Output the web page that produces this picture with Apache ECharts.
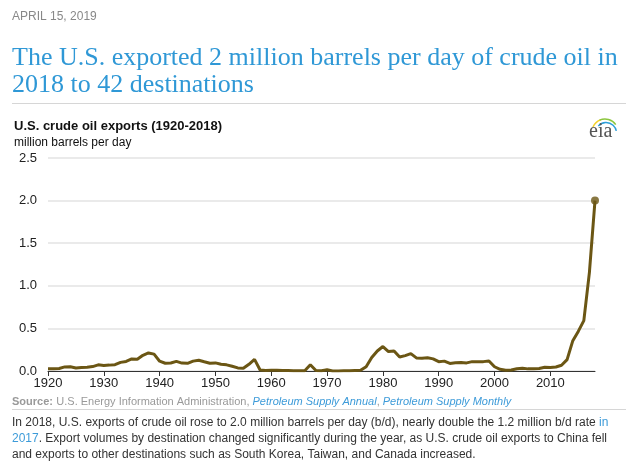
<!DOCTYPE html>
<html>
<head>
<meta charset="utf-8">
<script src="https://cdn.jsdelivr.net/npm/echarts@6/dist/echarts.min.js"></script>
<style>
html,body{margin:0;padding:0;background:#fff;}
#main{width:638px;height:470px;}
</style>
</head>
<body>
<div id="main"></div>
<script>
var years = [];
for (var y = 1920; y <= 2018; y++) years.push(y);
// U.S. crude oil exports, thousand barrels per day, 1920-2018
var exportsKbd = [
  25, 26, 30, 48, 49, 36, 42, 43, 52, 72,
  65, 69, 74, 101, 112, 141, 137, 184, 212, 198,
  115, 91, 94, 113, 93, 90, 116, 126, 108, 91,
  95, 79, 72, 55, 36, 32, 79, 137, 11, 7,
  8, 9, 5, 5, 4, 3, 4, 73, 5, 4,
  14, 1, 1, 2, 3, 6, 8, 50, 158, 235,
  287, 228, 236, 164, 181, 204, 154, 151, 155, 142,
  109, 116, 89, 98, 99, 95, 110, 108, 110, 118,
  50, 20, 9, 12, 27, 32, 25, 27, 29, 44,
  42, 47, 67, 134, 351, 465, 591, 1158, 2000
];
var yTicks = [0, 0.5, 1.0, 1.5, 2.0, 2.5];
var xTickYears = [1920, 1930, 1940, 1950, 1960, 1970, 1980, 1990, 2000, 2010];

var lineData = years.map(function (yr, i) { return [yr, exportsKbd[i] / 1000]; });
var lastPoint = [lineData[lineData.length - 1]];

var chart = echarts.init(document.getElementById('main'), null, {renderer: 'canvas'});
var sans = 'Liberation Sans, Arial, sans-serif';
var lineColor = '#6b5614';
var linkBlue = '#3d9bd9';

chart.setOption({
  backgroundColor: '#fff',
  animation: false,
  grid: {left: 48, right: 43, top: 158, bottom: 99},
  xAxis: {
    type: 'value',
    min: 1920, max: 2018, interval: 10,
    axisLine: {show: true, lineStyle: {color: '#333', width: 1}},
    axisTick: {show: true, length: 5, lineStyle: {color: '#333'}},
    splitLine: {show: false},
    axisLabel: {
      color: '#222', fontFamily: sans, fontSize: 13, margin: 6,
      showMaxLabel: false,
      formatter: function (v) { return xTickYears.indexOf(v) >= 0 ? String(v) : ''; }
    }
  },
  yAxis: {
    type: 'value',
    min: yTicks[0], max: yTicks[yTicks.length - 1], interval: 0.5,
    axisLine: {show: false},
    axisTick: {show: false},
    splitLine: {show: true, lineStyle: {color: '#e3e3e3', width: 1.5}},
    axisLabel: {
      color: '#222', fontFamily: sans, fontSize: 13, margin: 11,
      formatter: function (v) { return v.toFixed(1); }
    }
  },
  series: [
    {
      type: 'line',
      data: lineData,
      symbol: 'none',
      lineStyle: {color: lineColor, width: 3},
      z: 3
    },
    {
      type: 'scatter',
      data: lastPoint,
      symbol: 'circle',
      symbolSize: 8,
      itemStyle: {color: lineColor},
      z: 4
    }
  ],
  graphic: [
    {type: 'text', left: 12, top: 11, style: {text: 'APRIL 15, 2019', fill: '#888', font: '12px ' + sans}},
    {type: 'text', left: 12, top: 45, style: {
      text: 'The U.S. exported 2 million barrels per day of crude oil in\n2018 to 42 destinations',
      fill: '#2f98d6', font: '26px "Liberation Serif", "Times New Roman", serif', lineHeight: 27}},
    {type: 'line', shape: {x1: 12, y1: 103.5, x2: 626, y2: 103.5}, style: {stroke: '#d6d6d6', lineWidth: 1}},
    {type: 'text', left: 14, top: 120, style: {text: 'U.S. crude oil exports (1920-2018)', fill: '#111', font: 'bold 13px ' + sans}},
    {type: 'text', left: 14, top: 137, style: {text: 'million barrels per day', fill: '#111', font: '12px ' + sans}},
    // eia logo
    {type: 'arc', shape: {cx: 605, cy: 132, r: 13, startAngle: -2.75, endAngle: -1.9}, style: {stroke: '#f2d22e', lineWidth: 1.5, fill: null}},
    {type: 'arc', shape: {cx: 605, cy: 132, r: 13, startAngle: -2.0, endAngle: -0.6}, style: {stroke: '#8cc63f', lineWidth: 1.5, fill: null}},
    {type: 'arc', shape: {cx: 606, cy: 133, r: 10.5, startAngle: -2.4, endAngle: -0.2}, style: {stroke: '#2c9fd9', lineWidth: 1.5, fill: null}},
    {type: 'text', left: 589, top: 122, style: {text: 'eia', fill: '#555', font: '20px "Liberation Serif", serif'}},
    // source line
    {type: 'text', left: 12, top: 396, style: {
      text: '{b|Source:} {g|U.S. Energy Information Administration, }{l|Petroleum Supply Annual}{g|, }{l|Petroleum Supply Monthly}',
      rich: {
        b: {fill: '#999', font: 'bold 11px ' + sans},
        g: {fill: '#999', font: '11px ' + sans},
        l: {fill: linkBlue, font: 'italic 11px ' + sans}
      }}},
    {type: 'line', shape: {x1: 12, y1: 409.5, x2: 626, y2: 409.5}, style: {stroke: '#d6d6d6', lineWidth: 1}},
    {type: 'text', left: 12, top: 417, style: {
      text: '{t|In 2018, U.S. exports of crude oil rose to 2.0 million barrels per day (b/d), nearly double the 1.2 million b/d rate }{l|in}',
      rich: {t: {fill: '#333', font: '12px ' + sans}, l: {fill: linkBlue, font: '12px ' + sans}}}},
    {type: 'text', left: 12, top: 433, style: {
      text: '{l|2017}{t|. Export volumes by destination changed significantly during the year, as U.S. crude oil exports to China fell}',
      rich: {t: {fill: '#333', font: '12px ' + sans}, l: {fill: linkBlue, font: '12px ' + sans}}}},
    {type: 'text', left: 12, top: 449, style: {
      text: 'and exports to other destinations such as South Korea, Taiwan, and Canada increased.',
      fill: '#333', font: '12px ' + sans}}
  ]
});
</script>
</body>
</html>
